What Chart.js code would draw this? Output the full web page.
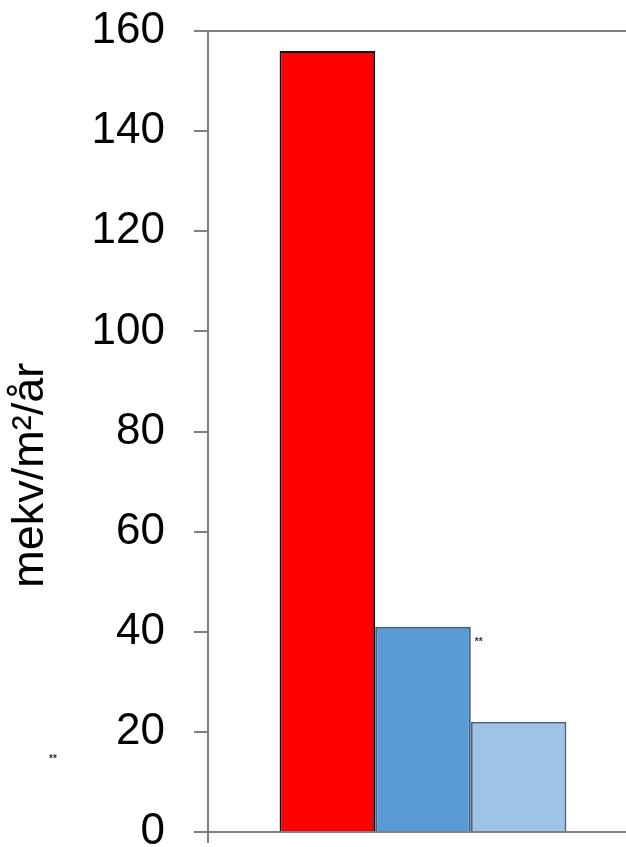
<!DOCTYPE html>
<html>
<head>
<meta charset="utf-8">
<script src="https://cdn.jsdelivr.net/npm/chart.js@4/dist/chart.umd.min.js"></script>
<style>
  html, body { margin: 0; padding: 0; background: #fff; overflow: hidden; }
  canvas { display: block; }
</style>
</head>
<body>
<canvas id="Acid__Canvas" width="638" height="847"></canvas>
<script>
// values
const categories = [""];
const seriesNames = ["Serie 1", "Serie 2", "Serie 3"];
const redValues = [156];
const blueValues = [41];
const lightBlueValues = [22];
const yMin = 0;
const yMax = 160;
const yStep = 20;
const yTitle = "mekv/m²/år       ";

const noteMarks = {
  id: "noteMarks",
  afterDraw(chart) {
    const ctx = chart.ctx;
    const y = chart.scales.y;
    const bar = chart.getDatasetMeta(1).data[0];
    ctx.save();
    ctx.fillStyle = "#333";
    ctx.font = "bold 10px 'Liberation Sans', Arial";
    ctx.textBaseline = "middle";
    ctx.fillText("**", bar.x + bar.width / 2 + 4, y.getPixelForValue(blueValues[0]) + 16);
    ctx.fillText("**", 49, y.getPixelForValue(15) + 2);
    ctx.restore();
  },
};

const barCanvas = document.getElementById("Acid__Canvas");
const barChart = new Chart(barCanvas, {
  type: "bar",
  data: {
    labels: categories,
    datasets: [
      {
        label: seriesNames[0],
        data: redValues,
        backgroundColor: "#ff0000",
        borderColor: "#111",
        borderWidth: 2,
      },
      {
        label: seriesNames[1],
        data: blueValues,
        backgroundColor: "#5b9bd5",
        borderColor: "#3b5f85",
        borderWidth: 2,
      },
      {
        label: seriesNames[2],
        data: lightBlueValues,
        backgroundColor: "#9dc3e6",
        borderColor: "#4d6580",
        borderWidth: 2,
      },
    ],
  },
  options: {
    responsive: false,
    animation: false,
    devicePixelRatio: 1,
    categoryPercentage: 0.667,
    barPercentage: 1,
    layout: { padding: { top: 31, bottom: 4, left: 0, right: 0 } },
    plugins: {
      legend: { display: false },
      tooltip: { enabled: false },
    },
    scales: {
      x: {
        afterFit: (scale) => {
          scale.height = 11;
        },
        grid: {
          drawOnChartArea: false,
          tickLength: 11,
          tickColor: "#808080",
          lineWidth: 2,
        },
        border: { color: "#808080", width: 2 },
        ticks: { display: false },
      },
      y: {
        min: yMin,
        max: yMax,
        afterFit: (scale) => {
          scale.width = 208;
          scale.paddingTop = 0;
          scale.paddingBottom = 0;
        },
        grid: {
          color: (c) => (c.tick && c.tick.value === yMax ? "#808080" : "rgba(0,0,0,0)"),
          tickColor: "#808080",
          tickLength: 14,
          lineWidth: 2,
        },
        border: { color: "#808080", width: 2 },
        ticks: {
          stepSize: yStep,
          padding: 29,
          color: "#000",
          font: { family: "'Liberation Sans', Arial", size: 44 },
        },
        title: {
          display: true,
          text: yTitle,
          color: "#000",
          padding: { top: 4, bottom: 0 },
          font: { family: "'Liberation Sans', Arial", size: 45 },
        },
      },
    },
  },
  plugins: [noteMarks],
});
</script>
</body>
</html>
